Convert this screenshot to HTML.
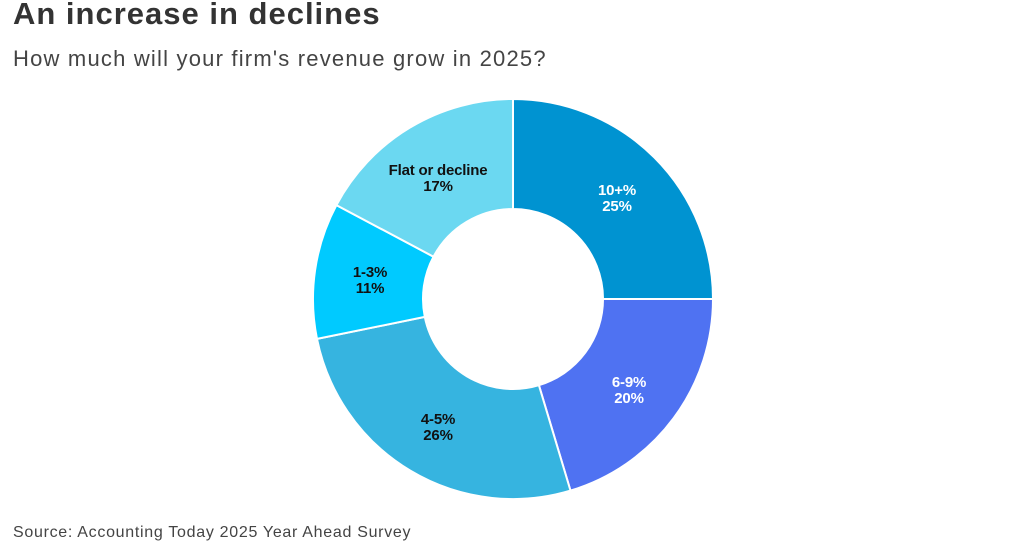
<!DOCTYPE html>
<html><head><style>
body{margin:0;width:1024px;height:538px;overflow:hidden;background:#fff;font-family:"Liberation Sans",sans-serif;position:relative}
.t{position:absolute;left:13px;top:-4px;font-size:31px;font-weight:bold;color:#333;letter-spacing:1px}
.s{position:absolute;left:13px;top:46px;font-size:22px;color:#444;letter-spacing:1.2px}
.src{position:absolute;left:13px;top:524px;font-size:16px;color:#444;letter-spacing:0.7px}
svg{position:absolute;left:0;top:0}
text{font-family:"Liberation Sans",sans-serif;font-size:15px;font-weight:bold;text-anchor:middle;letter-spacing:-0.2px}
</style></head><body>
<div class="t">An increase in declines</div>
<div class="s">How much will your firm's revenue grow in 2025?</div>
<svg width="1024" height="538">
<g stroke="#fff" stroke-width="2" stroke-linejoin="round">
<path d="M513,99 A200,200 0 0 1 713,299 L603,299 A90,90 0 0 0 513,209 Z" fill="#0093d1"/>
<path d="M713,299 A200,200 0 0 1 570.5,490.6 L538.9,385.2 A90,90 0 0 0 603,299 Z" fill="#4f72f2"/>
<path d="M570.5,490.6 A200,200 0 0 1 317,338.9 L424.8,316.9 A90,90 0 0 0 538.9,385.2 Z" fill="#36b4e0"/>
<path d="M317,338.9 A200,200 0 0 1 336.4,205.1 L433.5,256.7 A90,90 0 0 0 424.8,316.9 Z" fill="#00caff"/>
<path d="M336.4,205.1 A200,200 0 0 1 513,99 L513,209 A90,90 0 0 0 433.5,256.7 Z" fill="#6bd8f1"/>
</g>
<text x="617" y="195" fill="#fff">10+%</text><text x="617" y="211" fill="#fff">25%</text>
<text x="629" y="387" fill="#fff">6-9%</text><text x="629" y="403" fill="#fff">20%</text>
<text x="438" y="424" fill="#111">4-5%</text><text x="438" y="440" fill="#111">26%</text>
<text x="370" y="277" fill="#111">1-3%</text><text x="370" y="293" fill="#111">11%</text>
<text x="438" y="175" fill="#111">Flat or decline</text><text x="438" y="191" fill="#111">17%</text>
</svg>
<div class="src">Source: Accounting Today 2025 Year Ahead Survey</div>
</body></html>
